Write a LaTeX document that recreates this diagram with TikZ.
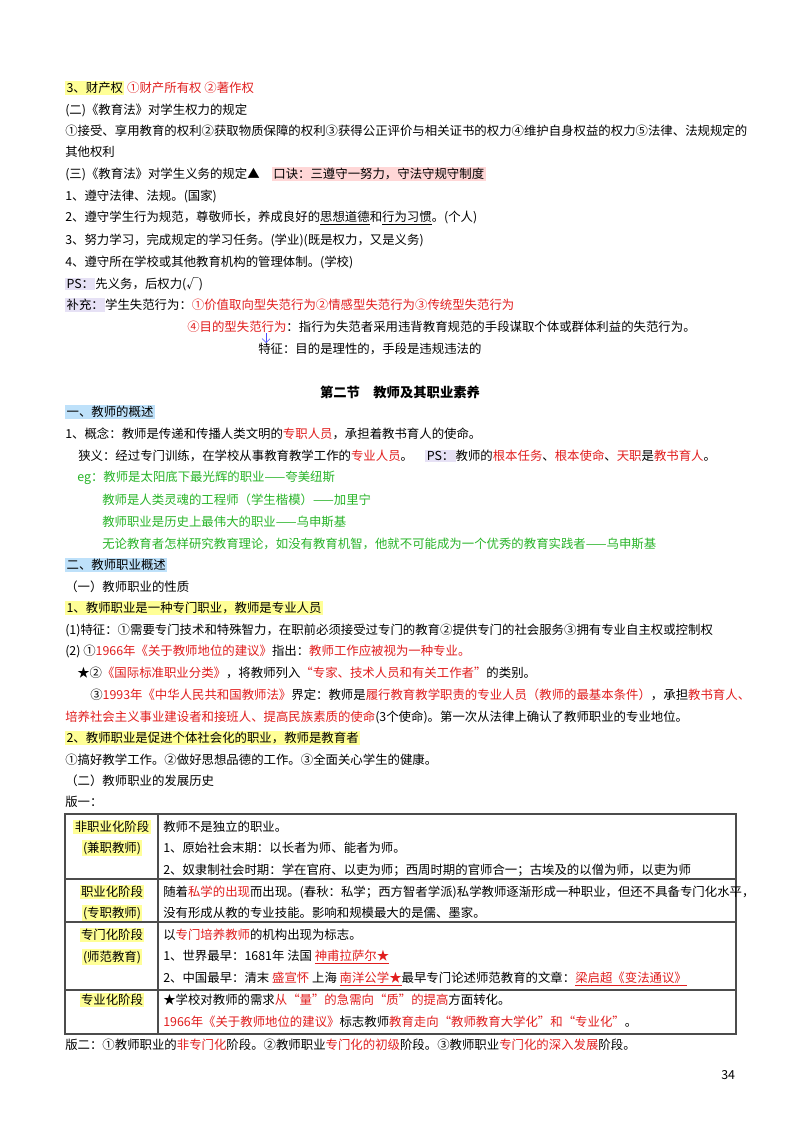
\documentclass[tikz,border=0pt]{standalone}
\usepackage{fontspec}
\setmainfont{Noto Sans CJK SC}
\usepackage{xcolor}
\usetikzlibrary{arrows.meta}
\definecolor{hred}{RGB}{225,30,30}
\definecolor{hgreen}{RGB}{40,180,40}
\definecolor{hlyellow}{RGB}{255,255,150}
\definecolor{hlpink}{RGB}{255,215,215}
\definecolor{hllav}{RGB}{230,225,245}
\definecolor{hlblue}{RGB}{190,225,250}
\setlength{\fboxsep}{1pt}
\newcommand{\rd}[1]{\textcolor{hred}{#1}}
\newcommand{\hly}[1]{\colorbox{hlyellow}{#1}}
\newcommand{\hlp}[1]{\colorbox{hlpink}{#1}}
\newcommand{\hlv}[1]{\colorbox{hllav}{#1}}
\newcommand{\hlb}[1]{\colorbox{hlblue}{#1}}
\tikzset{
  txt/.style={anchor=west,inner sep=0pt,font=\fontsize{9.3}{11}\selectfont},
  grn/.style={txt,text=hgreen},
  cell/.style={inner sep=0pt,font=\fontsize{9.3}{11}\selectfont}
}
\begin{document}
\begin{tikzpicture}[x=0.75pt,y=-0.75pt]
    \useasboundingbox[fill=white] (0,0) rectangle (800,1130);
    % rights and duties of students
    \node[txt] (l1) at (65,88) {\hly{3、财产权} \rd{①财产所有权 ②著作权}};
    \node[txt] (l2) at (65,110) {(二)《教育法》对学生权力的规定};
    \node[txt] (l3) at (65,131) {①接受、享用教育的权利②获取物质保障的权利③获得公正评价与相关证书的权力④维护自身权益的权力⑤法律、法规规定的};
    \node[txt] (l4) at (65,152) {其他权利};
    \node[txt] (l5) at (65,174) {(三)《教育法》对学生义务的规定▲\quad\hlp{口诀：三遵守一努力，守法守规守制度}};
    \node[txt] (l6) at (65,196) {1、遵守法律、法规。(国家)};
    \node[txt] (l7) at (65,218) {2、遵守学生行为规范，尊敬师长，养成良好的\underline{思想道德}和\underline{行为习惯}。(个人)};
    \node[txt] (l8) at (65,240) {3、努力学习，完成规定的学习任务。(学业)(既是权力，又是义务)};
    \node[txt] (l9) at (65,262) {4、遵守所在学校或其他教育机构的管理体制。(学校)};
    \node[txt] (l10) at (65,284) {\hlv{PS：}先义务，后权力(√)};
    \node[txt] (l11) at (65,305) {\hlv{补充：}学生失范行为：\rd{①价值取向型失范行为②情感型失范行为③传统型失范行为}};
    \node[txt] (l12) at (187,327) {\rd{④目的型失范行为}：指行为失范者采用违背教育规范的手段谋取个体或群体利益的失范行为。};
    \node[txt] (l13) at (258,349) {特征：目的是理性的，手段是违规违法的};
    \coordinate (arrtop) at (266,333);
    \coordinate (arrbot) at (266,343);
    \draw[blue!70,-{Straight Barb[length=3pt]}] (arrtop) -- (arrbot);
    % section two
    \node[inner sep=0pt,font=\fontsize{10}{12}\selectfont\bfseries] (title) at (400,392) {第二节\quad 教师及其职业素养};
    \node[txt] (s1) at (65,412) {\hlb{一、教师的概述}};
    \node[txt] (s2) at (65,434) {1、概念：教师是传递和传播人类文明的\rd{专职人员}，承担着教书育人的使命。};
    \node[txt] (s3) at (78,456) {狭义：经过专门训练，在学校从事教育教学工作的\rd{专业人员}。\quad \hlv{PS：}教师的\rd{根本任务}、\rd{根本使命}、\rd{天职}是\rd{教书育人}。};
    \node[grn] (eg1) at (77,478) {eg：教师是太阳底下最光辉的职业——夸美纽斯};
    \node[grn] (eg2) at (102,500) {教师是人类灵魂的工程师（学生楷模）——加里宁};
    \node[grn] (eg3) at (102,522) {教师职业是历史上最伟大的职业——乌申斯基};
    \node[grn] (eg4) at (102,544) {无论教育者怎样研究教育理论，如没有教育机智，他就不可能成为一个优秀的教育实践者——乌申斯基};
    \node[txt] (s4) at (65,565) {\hlb{二、教师职业概述}};
    \node[txt] (s5) at (65,587) {（一）教师职业的性质};
    \node[txt] (s6) at (65,608) {\hly{1、教师职业是一种专门职业，教师是专业人员}};
    \node[txt] (s7) at (65,630) {(1)特征：①需要专门技术和特殊智力，在职前必须接受过专门的教育②提供专门的社会服务③拥有专业自主权或控制权};
    \node[txt] (s8) at (65,651) {(2)\ ①\rd{1966年《关于教师地位的建议》}指出：\rd{教师工作应被视为一种专业。}};
    \node[txt] (s9) at (77,673) {★②\rd{《国际标准职业分类》}，将教师列入\rd{“专家、技术人员和有关工作者”}的类别。};
    \node[txt] (s10) at (90,695) {③\rd{1993年《中华人民共和国教师法》}界定：教师是\rd{履行教育教学职责的专业人员（教师的最基本条件）}，承担\rd{教书育人、}};
    \node[txt] (s11) at (65,717) {\rd{培养社会主义事业建设者和接班人、提高民族素质的使命}(3个使命)。第一次从法律上确认了教师职业的专业地位。};
    \node[txt] (s12) at (65,738) {\hly{2、教师职业是促进个体社会化的职业，教师是教育者}};
    \node[txt] (s13) at (65,760) {①搞好教学工作。②做好思想品德的工作。③全面关心学生的健康。};
    \node[txt] (s14) at (65,781) {（二）教师职业的发展历史};
    \node[txt] (s15) at (65,802) {版一：};
    % table
    \draw[thick,gray!60!black] (65,814) rectangle (736,1034);
    \foreach \yy in {879,922,990} \draw[thick,gray!60!black] (65,\yy) -- (736,\yy);
    \draw[thick,gray!60!black] (158,814) -- (158,1034);
    \node[cell] (r1a) at (112,827) {\hly{非职业化阶段}};
    \node[cell] (r1b) at (112,848) {\hly{(兼职教师)}};
    \node[txt] (r1c) at (163,827) {教师不是独立的职业。};
    \node[txt] (r1d) at (163,848) {1、原始社会末期：以长者为师、能者为师。};
    \node[txt] (r1e) at (163,870) {2、奴隶制社会时期：学在官府、以吏为师；西周时期的官师合一；古埃及的以僧为师，以吏为师};
    \node[cell] (r2a) at (112,892) {\hly{职业化阶段}};
    \node[cell] (r2b) at (112,913) {\hly{(专职教师)}};
    \node[txt] (r2c) at (163,892) {随着\rd{私学的出现}而出现。(春秋：私学；西方智者学派)私学教师逐渐形成一种职业，但还不具备专门化水平，};
    \node[txt] (r2d) at (163,913) {没有形成从教的专业技能。影响和规模最大的是儒、墨家。};
    \node[cell] (r3a) at (112,935) {\hly{专门化阶段}};
    \node[cell] (r3b) at (112,957) {\hly{(师范教育)}};
    \node[txt] (r3c) at (163,935) {以\rd{专门培养教师}的机构出现为标志。};
    \node[txt] (r3d) at (163,957) {1、世界最早：1681年\ 法国\ \rd{\underline{神甫拉萨尔★}}};
    \node[txt] (r3e) at (163,979) {2、中国最早：清末\ \rd{盛宣怀}\ 上海\ \rd{\underline{南洋公学★}}最早专门论述师范教育的文章：\rd{\underline{梁启超《变法通议》}}};
    \node[cell] (r4a) at (112,1000) {\hly{专业化阶段}};
    \node[txt] (r4c) at (163,1000) {★学校对教师的需求\rd{从“量”的急需向“质”的提高}方面转化。};
    \node[txt] (r4d) at (163,1022) {\rd{1966年《关于教师地位的建议》}标志教师\rd{教育走向“教师教育大学化”和“专业化”}。};
    \node[txt] (s16) at (65,1045) {版二：①教师职业的\rd{非专门化}阶段。②教师职业\rd{专门化的初级}阶段。③教师职业\rd{专门化的深入发展}阶段。};
    \node[txt] (pg) at (721,1075) {34};
\end{tikzpicture}
\end{document}
